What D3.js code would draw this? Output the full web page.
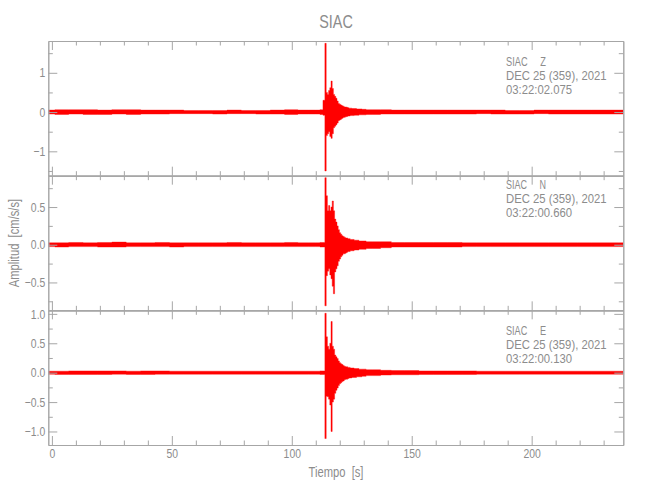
<!DOCTYPE html>
<html>
<head>
<meta charset="utf-8">
<script src="https://cdn.jsdelivr.net/npm/d3@7"></script>
<style>
  body { margin: 0; background: #fff; }
  svg text { font-family: "Liberation Sans", Arial, sans-serif; fill: #8c8c8c; white-space: pre; }
</style>
</head>
<body>
<svg id="chart" width="650" height="500"></svg>
<script>
'use strict';

// bin centres [s] of the decimated traces (coarse in the quiet parts, fine around the event)
let binT = [-1.5, 4, 10, 16, 22, 28, 34, 40, 46, 52, 58, 64, 70, 76, 82, 88, 94, 100, 105, 109, 111,
    112.5, 113.5, 114.1,
    114.6, 115.1, 115.6, 116.1, 116.6, 117.1, 117.6, 118.1, 118.6, 119.1, 119.6, 120.1, 120.6, 121.1, 121.6,
    122.1, 122.6, 123.1, 123.6, 124.1, 124.6,
    125.5, 126.5, 127.5, 128.5,
    130, 132, 135, 139,
    144, 150, 156, 162, 168, 174, 180, 186, 192, 198, 204, 210, 216, 222, 228, 234, 238.2];

// max / min amplitude per bin [cm/s/s]
let zHi = [0.05, 0.06, 0.06, 0.06, 0.05, 0.06, 0.06, 0.05, 0.05, 0.05, 0.04, 0.04, 0.04, 0.05, 0.04, 0.04, 0.05, 0.06, 0.05, 0.05, 0.05,
    0.06, 0.3, 1.75,
    0.50, 0.45, 0.55, 0.62, 0.79, 0.60, 0.45, 0.40, 0.35, 0.28, 0.22, 0.20, 0.18, 0.16, 0.15, 0.13, 0.13, 0.12, 0.11, 0.10, 0.10,
    0.09, 0.09, 0.08, 0.08,
    0.07, 0.06, 0.06, 0.06,
    0.05, 0.05, 0.05, 0.05, 0.05, 0.05, 0.05, 0.05, 0.04, 0.04, 0.05, 0.05, 0.05, 0.05, 0.05, 0.05, 0.05];
let zLo = [-0.05, -0.06, -0.05, -0.06, -0.06, -0.05, -0.06, -0.05, -0.05, -0.04, -0.04, -0.04, -0.05, -0.04, -0.04, -0.05, -0.05, -0.06, -0.05, -0.05, -0.05,
    -0.06, -0.08, -1.50,
    -0.60, -0.55, -0.50, -0.62, -0.67, -0.55, -0.40, -0.36, -0.32, -0.28, -0.22, -0.20, -0.18, -0.16, -0.14, -0.13, -0.12, -0.11, -0.10, -0.10, -0.09,
    -0.09, -0.08, -0.08, -0.07,
    -0.07, -0.06, -0.06, -0.05,
    -0.05, -0.05, -0.05, -0.05, -0.05, -0.05, -0.04, -0.05, -0.05, -0.05, -0.04, -0.05, -0.05, -0.05, -0.05, -0.05, -0.05];

let nHi = [0.025, 0.025, 0.03, 0.025, 0.03, 0.035, 0.025, 0.025, 0.03, 0.025, 0.025, 0.025, 0.025, 0.03, 0.025, 0.025, 0.025, 0.03, 0.025, 0.025, 0.025,
    0.03, 0.03, 0.89,
    0.65, 0.45, 0.52, 0.45, 0.50, 0.58, 0.45, 0.34, 0.30, 0.25, 0.20, 0.16, 0.14, 0.12, 0.11, 0.10, 0.09, 0.09, 0.08, 0.08, 0.07,
    0.07, 0.06, 0.06, 0.05,
    0.05, 0.04, 0.04, 0.04,
    0.03, 0.03, 0.03, 0.03, 0.03, 0.025, 0.025, 0.025, 0.025, 0.025, 0.025, 0.025, 0.025, 0.025, 0.025, 0.025, 0.025];
let nLo = [-0.025, -0.03, -0.025, -0.025, -0.03, -0.03, -0.025, -0.025, -0.025, -0.03, -0.025, -0.025, -0.025, -0.025, -0.025, -0.025, -0.025, -0.025, -0.025, -0.025, -0.025,
    -0.03, -0.03, -0.81,
    -0.41, -0.35, -0.32, -0.40, -0.45, -0.55, -0.65, -0.36, -0.32, -0.28, -0.22, -0.19, -0.16, -0.14, -0.12, -0.12, -0.11, -0.10, -0.09, -0.09, -0.08,
    -0.08, -0.07, -0.07, -0.06,
    -0.06, -0.05, -0.05, -0.04,
    -0.03, -0.03, -0.03, -0.03, -0.03, -0.025, -0.025, -0.025, -0.025, -0.025, -0.025, -0.025, -0.025, -0.025, -0.025, -0.025, -0.025];

let eHi = [0.025, 0.025, 0.03, 0.03, 0.03, 0.03, 0.025, 0.03, 0.03, 0.025, 0.025, 0.025, 0.025, 0.025, 0.025, 0.025, 0.025, 0.025, 0.025, 0.025, 0.025,
    0.03, 0.03, 1.01,
    0.61, 0.45, 0.40, 0.50, 0.87, 0.45, 0.40, 0.30, 0.27, 0.24, 0.20, 0.17, 0.15, 0.14, 0.12, 0.11, 0.10, 0.10, 0.09, 0.09, 0.08,
    0.08, 0.07, 0.07, 0.06,
    0.06, 0.05, 0.05, 0.04,
    0.035, 0.035, 0.03, 0.03, 0.03, 0.03, 0.025, 0.025, 0.025, 0.025, 0.025, 0.025, 0.025, 0.025, 0.025, 0.025, 0.025];
let eLo = [-0.025, -0.03, -0.03, -0.03, -0.03, -0.025, -0.03, -0.03, -0.025, -0.025, -0.025, -0.025, -0.025, -0.025, -0.025, -0.025, -0.025, -0.025, -0.025, -0.025, -0.025,
    -0.03, -0.03, -1.12,
    -0.40, -0.41, -0.45, -0.55, -1.00, -0.50, -0.45, -0.35, -0.30, -0.26, -0.22, -0.19, -0.17, -0.15, -0.14, -0.12, -0.11, -0.11, -0.10, -0.09, -0.09,
    -0.08, -0.08, -0.07, -0.07,
    -0.06, -0.05, -0.05, -0.04,
    -0.035, -0.035, -0.03, -0.03, -0.03, -0.03, -0.025, -0.025, -0.025, -0.025, -0.025, -0.025, -0.025, -0.025, -0.025, -0.025, -0.025];

let stations = ["SIAC", "SIAC", "SIAC"];
let components = ["Z", "N", "E"];
let dateLabels = ["DEC 25 (359), 2021", "DEC 25 (359), 2021", "DEC 25 (359), 2021"];
let timeLabels = ["03:22:02.075", "03:22:00.660", "03:22:00.130"];

let yDomains = [[-1.62, 1.81], [-0.87, 0.916], [-1.23, 1.06]];
let yMajor = [[-1, 0, 1], [-0.5, 0, 0.5], [-1, -0.5, 0, 0.5, 1]];
let yMinor = [[-1.5, -0.5, 0.5, 1.5], [-0.75, -0.25, 0.25, 0.75], [-0.75, -0.25, 0.25, 0.75]];
let yFormats = ["d", ".1f", ".1f"];

let xMajor = [0, 50, 100, 150, 200];
let xMinor = [10, 20, 30, 40, 60, 70, 80, 90, 110, 120, 130, 140, 160, 170, 180, 190, 210, 220, 230];

let traces = [[zHi, zLo], [nHi, nLo], [eHi, eLo]].map(p => binT.map((t, i) => ({t: t, hi: p[0][i], lo: p[1][i]})));

let layout = {left: 48.3, right: 623.3, top: 41, panelH: 134.67, major: 9, minor: 4.5};
let axisColor = "#a6a6a6";
let labelOffsets = [25, 13, 25];
let narrow = 0.8;   // the plot's vector font is much narrower than any installed face

let svg = d3.select("#chart");

let x = d3.scaleLinear()
    .domain([-1.5, 238.2])
    .range([layout.left, layout.right]);

svg.append("defs").selectAll("clipPath")
    .data(traces)
    .enter()
    .append("clipPath")
    .attr("id", (d, i) => "clip" + i)
    .append("rect")
    .attr("x", layout.left)
    .attr("y", (d, i) => layout.top + i * layout.panelH)
    .attr("width", layout.right - layout.left)
    .attr("height", layout.panelH);

traces.forEach((trace, i) => drawPanel(trace, i));

function styleAxis(g) {
    g.selectAll("path, line").attr("stroke", axisColor).attr("stroke-width", 1);
    g.selectAll("text").attr("fill", "#8c8c8c").style("font-size", "13px");
}

function drawPanel(trace, i) {
    let top = layout.top + i * layout.panelH,
        bottom = top + layout.panelH;

    let y = d3.scaleLinear()
        .domain(yDomains[i])
        .range([bottom, top]);

    // trace
    let area = d3.area()
        .curve(d3.curveStep)
        .x(d => x(d.t))
        .y0(d => y(d.lo))
        .y1(d => y(d.hi));

    svg.append("path")
        .attr("clip-path", "url(#clip" + i + ")")
        .attr("fill", "#ff0000")
        .attr("stroke", "#ff0000")
        .attr("stroke-width", 0.4)
        .attr("d", area(trace));

    // box with inward ticks on all four sides
    let fmt = d3.format(yFormats[i]);
    svg.append("g")
        .attr("transform", "translate(" + layout.left + ",0)")
        .call(d3.axisLeft(y).tickValues(yMajor[i]).tickFormat(fmt)
            .tickSizeInner(-layout.major).tickSizeOuter(0).tickPadding(3))
        .call(styleAxis);
    svg.append("g")
        .attr("transform", "translate(" + layout.left + ",0)")
        .call(d3.axisLeft(y).tickValues(yMinor[i]).tickFormat("")
            .tickSizeInner(-layout.minor).tickSizeOuter(0))
        .call(styleAxis);
    svg.append("g")
        .attr("transform", "translate(" + layout.right + ",0)")
        .call(d3.axisRight(y).tickValues(yMajor[i]).tickFormat("")
            .tickSizeInner(-layout.major).tickSizeOuter(0))
        .call(styleAxis);
    svg.append("g")
        .attr("transform", "translate(" + layout.right + ",0)")
        .call(d3.axisRight(y).tickValues(yMinor[i]).tickFormat("")
            .tickSizeInner(-layout.minor).tickSizeOuter(0))
        .call(styleAxis);

    svg.append("g")
        .attr("transform", "translate(0," + top + ")")
        .call(d3.axisTop(x).tickValues(xMajor).tickFormat("")
            .tickSizeInner(-layout.major).tickSizeOuter(0))
        .call(styleAxis);
    svg.append("g")
        .attr("transform", "translate(0," + top + ")")
        .call(d3.axisTop(x).tickValues(xMinor).tickFormat("")
            .tickSizeInner(-layout.minor).tickSizeOuter(0))
        .call(styleAxis);
    svg.append("g")
        .attr("transform", "translate(0," + bottom + ")")
        .call(d3.axisBottom(x).tickValues(xMajor)
            .tickFormat(i === traces.length - 1 ? d3.format("d") : "")
            .tickSizeInner(-layout.major).tickSizeOuter(0).tickPadding(3.5))
        .call(styleAxis);
    svg.append("g")
        .attr("transform", "translate(0," + bottom + ")")
        .call(d3.axisBottom(x).tickValues(xMinor).tickFormat("")
            .tickSizeInner(-layout.minor).tickSizeOuter(0))
        .call(styleAxis);

    // station label
    let lines = [stations[i] + "     " + components[i], dateLabels[i], timeLabels[i]];
    svg.append("g")
        .selectAll("text")
        .data(lines)
        .enter()
        .append("text")
        .attr("class", (d, k) => k === 0 ? "station" : "stamp")
        .attr("x", 506)
        .attr("y", (d, k) => top + labelOffsets[i] + k * 14)
        .style("font-size", "13px")
        .text(d => d);
}

svg.append("text")
    .attr("x", 336)
    .attr("y", 28)
    .style("text-anchor", "middle")
    .style("font-size", "18px")
    .text("SIAC");

svg.append("text")      // x-axis label
    .attr("x", 336)
    .attr("y", 476.5)
    .style("text-anchor", "middle")
    .style("font-size", "14px")
    .text("Tiempo  [s]");

svg.append("text")      // y-axis label
    .attr("transform", "translate(19,243) rotate(-90)")
    .style("text-anchor", "middle")
    .style("font-size", "14px")
    .text("Amplitud  [cm/s/s]");

// squeeze every label horizontally
svg.selectAll("text").each((d, i, nodes) => {
    let t = nodes[i];
    if (!t.textContent) return;
    let cls = t.getAttribute("class");
    let w = t.getComputedTextLength() * (cls === "stamp" ? 0.87 : narrow);
    if (cls === "station") w = 40;
    d3.select(t)
        .attr("textLength", w)
        .attr("lengthAdjust", "spacingAndGlyphs");
});
</script>
</body>
</html>
